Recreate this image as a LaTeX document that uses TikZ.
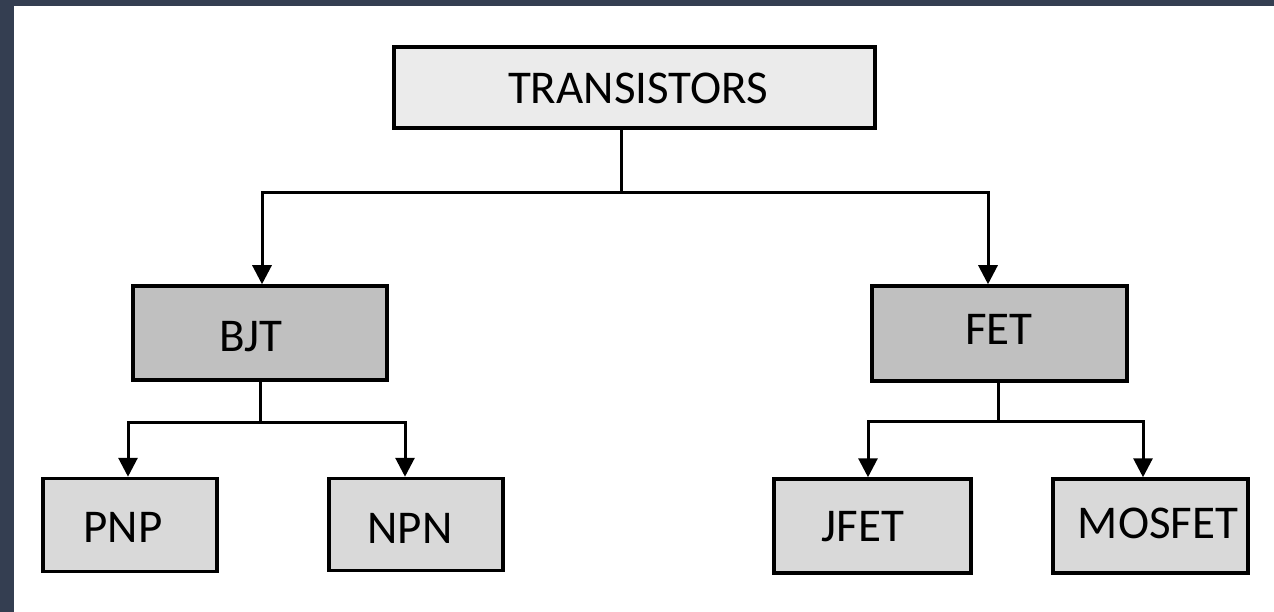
\documentclass[tikz,border=0pt]{standalone}
\usepackage{fontspec}
\setmainfont{Carlito}
\usetikzlibrary{arrows.meta}
\definecolor{frame}{HTML}{343E51}
\definecolor{topfill}{HTML}{EBEBEB}
\definecolor{midfill}{HTML}{C0C0C0}
\definecolor{leaffill}{HTML}{D9D9D9}
\tikzset{
  box/.style={draw=black, line width=3.5pt, inner sep=0pt},
  topbox/.style={box, fill=topfill},
  midbox/.style={box, fill=midfill},
  leafbox/.style={box, fill=leaffill},
  conn/.style={line width=3pt, draw=black},
  arr/.style={conn, -{Triangle[length=19pt, width=19pt]}},
  lbl/.style={inner sep=0pt, font=\fontsize{47}{50}\selectfont, anchor=center}
}
\begin{document}
\begin{tikzpicture}[x=1pt, y=-1pt]
\useasboundingbox (0,0) rectangle (1274,612);
\fill[frame] (0,0) rectangle (1274,612);
\fill[white] (14,6) rectangle (1274,612);
% boxes
\node[topbox, minimum width=481pt, minimum height=81pt] (tr) at (634.5,87.5) {};
\node[midbox, minimum width=254pt, minimum height=94pt] (bjt) at (260,333) {};
\node[midbox, minimum width=255pt, minimum height=95pt] (fet) at (999.5,333.5) {};
\node[leafbox, minimum width=174pt, minimum height=93pt] (pnp) at (130,525) {};
\node[leafbox, minimum width=174pt, minimum height=92pt] (npn) at (416,524.5) {};
\node[leafbox, minimum width=197pt, minimum height=94pt] (jfet) at (872.5,526) {};
\node[leafbox, minimum width=195pt, minimum height=94pt] (mos) at (1150.5,526) {};
% labels
\node[lbl] (ttr) at (638,88) {TRANSISTORS};
\node[lbl] (tbjt) at (251,337) {BJT};
\node[lbl] (tfet) at (999,329) {FET};
\node[lbl] (tpnp) at (123,527) {PNP};
\node[lbl] (tnpn) at (410,528) {NPN};
\node[lbl] (tjfet) at (863,527) {JFET};
\node[lbl] (tmos) at (1158,523) {MOSFET};
% junction coordinates
\coordinate (j0) at (621,193);
\coordinate (jl) at (262,193);
\coordinate (jr) at (988,193);
\coordinate (j1) at (260,422);
\coordinate (j1l) at (128,422);
\coordinate (j1r) at (405,422);
\coordinate (j2) at (998,421);
\coordinate (j2l) at (868,421);
\coordinate (j2r) at (1143,421);
% connectors
\draw[conn] (tr.south -| j0) -- (j0);
\draw[arr] (j0) -- (jl) -- (bjt.north -| jl);
\draw[arr] (j0) -- (jr) -- (fet.north -| jr);
\draw[conn] (bjt.south -| j1) -- (j1);
\draw[arr] (j1) -- (j1l) -- (pnp.north -| j1l);
\draw[arr] (j1) -- (j1r) -- (npn.north -| j1r);
\draw[conn] (fet.south -| j2) -- (j2);
\draw[arr] (j2) -- (j2l) -- (jfet.north -| j2l);
\draw[arr] (j2) -- (j2r) -- (mos.north -| j2r);
\end{tikzpicture}
\end{document}
